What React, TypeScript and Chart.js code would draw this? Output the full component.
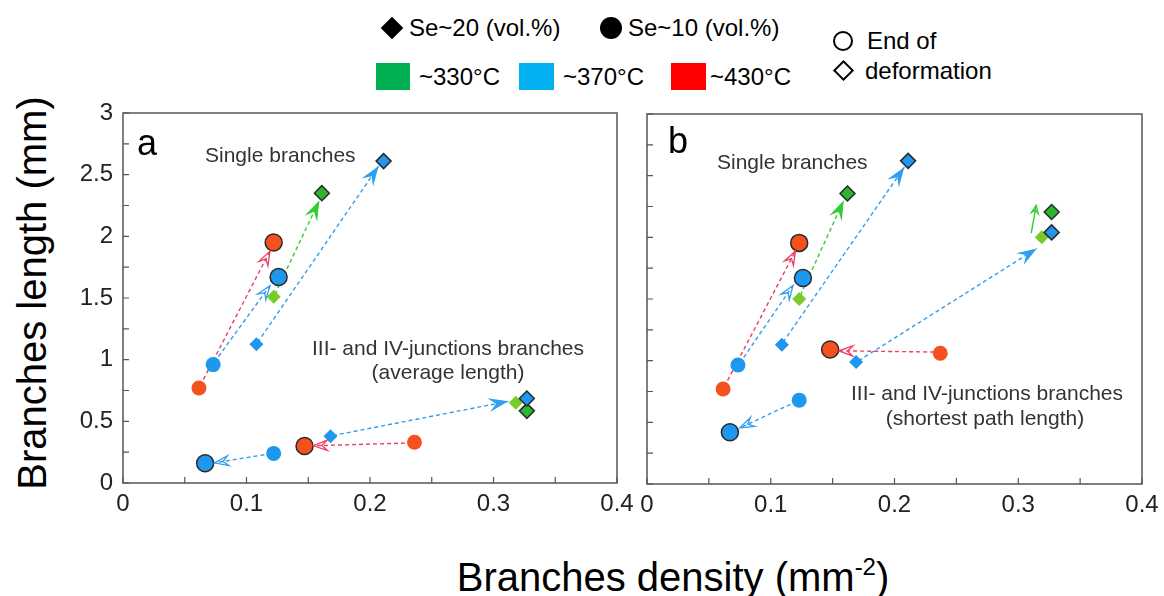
import React, { useEffect, useRef } from 'react';
import { Chart, registerables } from 'chart.js';

Chart.register(...registerables);

type P = { x: number; y: number };
type Seg = [number, number, number, number];

// ---------------- Panel a : single branches + III/IV junctions (average length) ----------------
const aRedCircleEnd: P[] = [{ x: 0.122, y: 1.95 }, { x: 0.147, y: 0.30 }];
const aRedCircleStart: P[] = [{ x: 0.0615, y: 0.77 }, { x: 0.236, y: 0.33 }];
const aBlueCircleEnd: P[] = [{ x: 0.126, y: 1.67 }, { x: 0.0665, y: 0.16 }];
const aBlueCircleStart: P[] = [{ x: 0.073, y: 0.96 }, { x: 0.122, y: 0.24 }];
const aBlueDiamondEnd: P[] = [{ x: 0.211, y: 2.61 }, { x: 0.327, y: 0.685 }];
const aBlueDiamondStart: P[] = [{ x: 0.108, y: 1.125 }, { x: 0.168, y: 0.38 }];
const aGreenDiamondEnd: P[] = [{ x: 0.161, y: 2.35 }, { x: 0.327, y: 0.585 }];
const aLightGreenDiamondStart: P[] = [{ x: 0.122, y: 1.51 }, { x: 0.318, y: 0.65 }];

const aRedArrows: Seg[] = [[0.0625, 0.79, 0.119, 1.88], [0.234, 0.325, 0.154, 0.302]];
const aBlueOpenArrows: Seg[] = [[0.074, 0.98, 0.119, 1.60], [0.12, 0.238, 0.074, 0.163]];
const aBlueFilledArrows: Seg[] = [[0.109, 1.14, 0.207, 2.57], [0.17, 0.385, 0.312, 0.662]];
const aGreenArrows: Seg[] = [[0.123, 1.53, 0.159, 2.29]];
const aGreenSolidArrows: Seg[] = [];

// ---------------- Panel b : single branches + III/IV junctions (shortest path length) ----------------
const bRedCircleEnd: P[] = [{ x: 0.123, y: 1.955 }, { x: 0.148, y: 1.09 }];
const bRedCircleStart: P[] = [{ x: 0.0615, y: 0.77 }, { x: 0.237, y: 1.06 }];
const bBlueCircleEnd: P[] = [{ x: 0.126, y: 1.67 }, { x: 0.067, y: 0.42 }];
const bBlueCircleStart: P[] = [{ x: 0.0735, y: 0.965 }, { x: 0.123, y: 0.68 }];
const bBlueDiamondEnd: P[] = [{ x: 0.211, y: 2.62 }, { x: 0.327, y: 2.04 }];
const bBlueDiamondStart: P[] = [{ x: 0.109, y: 1.13 }, { x: 0.169, y: 0.99 }];
const bGreenDiamondEnd: P[] = [{ x: 0.162, y: 2.355 }, { x: 0.327, y: 2.205 }];
const bLightGreenDiamondStart: P[] = [{ x: 0.123, y: 1.50 }, { x: 0.319, y: 2.0 }];

const bRedArrows: Seg[] = [[0.0625, 0.79, 0.12, 1.89], [0.232, 1.07, 0.155, 1.08]];
const bBlueOpenArrows: Seg[] = [[0.075, 0.98, 0.118, 1.61], [0.121, 0.67, 0.075, 0.455]];
const bBlueFilledArrows: Seg[] = [[0.110, 1.15, 0.208, 2.57], [0.171, 1.0, 0.315, 1.91]];
const bGreenArrows: Seg[] = [[0.124, 1.53, 0.159, 2.30]];
const bGreenSolidArrows: Seg[] = [[0.3105, 2.035, 0.3145, 2.26]];

// ---------------- axes ----------------
const X_MIN = 0, X_MAX = 0.4, X_STEP = 0.05, X_LABEL_EVERY = 0.1;
const Y_MIN = 0, Y_MAX = 3, Y_STEP = 0.25, Y_LABEL_EVERY = 0.5;

const FONT = "'Liberation Sans', Arial, Helvetica, sans-serif";
const RED = '#F4511E';
const BLUE = '#1E98EE';
const GREEN = '#2DB52D';
const LGREEN = '#78CC2A';
const RED_ARROW = '#F03C64';
const BLUE_ARROW = '#2E9EF0';
const GREEN_ARROW = '#33CC33';
const OUTLINE = '#2a2a2a';

type Panel = {
  redEnd: P[]; redStart: P[]; blueCEnd: P[]; blueCStart: P[];
  blueDEnd: P[]; blueDStart: P[]; greenDEnd: P[]; lgreenDStart: P[];
  redArrows: Seg[]; blueOpen: Seg[]; blueFilled: Seg[]; green: Seg[]; greenSolid: Seg[];
};

const panelA: Panel = {
  redEnd: aRedCircleEnd, redStart: aRedCircleStart, blueCEnd: aBlueCircleEnd, blueCStart: aBlueCircleStart,
  blueDEnd: aBlueDiamondEnd, blueDStart: aBlueDiamondStart, greenDEnd: aGreenDiamondEnd, lgreenDStart: aLightGreenDiamondStart,
  redArrows: aRedArrows, blueOpen: aBlueOpenArrows, blueFilled: aBlueFilledArrows, green: aGreenArrows, greenSolid: aGreenSolidArrows,
};
const panelB: Panel = {
  redEnd: bRedCircleEnd, redStart: bRedCircleStart, blueCEnd: bBlueCircleEnd, blueCStart: bBlueCircleStart,
  blueDEnd: bBlueDiamondEnd, blueDStart: bBlueDiamondStart, greenDEnd: bGreenDiamondEnd, lgreenDStart: bLightGreenDiamondStart,
  redArrows: bRedArrows, blueOpen: bBlueOpenArrows, blueFilled: bBlueFilledArrows, green: bGreenArrows, greenSolid: bGreenSolidArrows,
};

const pts = (data: P[], style: string, r: number, color: string, outlined: boolean) => ({
  data,
  showLine: false,
  pointStyle: style,
  pointRadius: r,
  pointHoverRadius: r,
  pointBackgroundColor: color,
  backgroundColor: color,
  pointBorderColor: outlined ? OUTLINE : color,
  borderColor: outlined ? OUTLINE : color,
  pointBorderWidth: outlined ? 1.5 : 0,
  borderWidth: outlined ? 1.5 : 0,
  order: outlined ? 0 : 1,
});

const shaft = (s: Seg, color: string, dashed: boolean) => ({
  data: [{ x: s[0], y: s[1] }, { x: s[2], y: s[3] }],
  showLine: true,
  borderColor: color,
  borderWidth: 1.4,
  borderDash: dashed ? [4, 3] : [],
  pointRadius: 0,
  pointHoverRadius: 0,
  fill: false,
  order: 2,
});

function fmt(v: number) {
  return String(Math.round(v * 100) / 100);
}
function isMultiple(v: number, step: number) {
  const q = v / step;
  return Math.abs(q - Math.round(q)) < 1e-6;
}

function makeChart(
  canvas: HTMLCanvasElement,
  p: Panel,
  geom: { yWidth: number; xHeight: number; pad: { left: number; top: number; right: number; bottom: number }; showY: boolean }
) {
  const heads: { segs: Seg[]; color: string; filled: boolean; L: number; W: number }[] = [
    { segs: p.redArrows, color: RED_ARROW, filled: false, L: 14, W: 5 },
    { segs: p.blueOpen, color: BLUE_ARROW, filled: false, L: 14, W: 5 },
    { segs: p.blueFilled, color: BLUE_ARROW, filled: true, L: 20, W: 7 },
    { segs: p.green, color: GREEN_ARROW, filled: true, L: 20, W: 7 },
    { segs: p.greenSolid, color: GREEN_ARROW, filled: false, L: 8, W: 3.5 },
  ];

  const framePlugin = {
    id: 'frameTicks',
    afterDatasetsDraw(chart: any) {
      const { ctx, chartArea, scales } = chart;
      ctx.save();
      ctx.strokeStyle = '#555';
      ctx.lineWidth = 1.5;
      ctx.strokeRect(chartArea.left, chartArea.top, chartArea.right - chartArea.left, chartArea.bottom - chartArea.top);
      ctx.lineWidth = 1.2;
      ctx.beginPath();
      for (const t of scales.x.ticks) {
        const px = scales.x.getPixelForValue(t.value);
        ctx.moveTo(px, chartArea.bottom);
        ctx.lineTo(px, chartArea.bottom - 6);
      }
      for (const t of scales.y.ticks) {
        const py = scales.y.getPixelForValue(t.value);
        ctx.moveTo(chartArea.left, py);
        ctx.lineTo(chartArea.left + 6, py);
      }
      ctx.stroke();
      ctx.restore();
    },
  };

  const arrowPlugin = {
    id: 'arrowHeads',
    afterDatasetsDraw(chart: any) {
      const { ctx, scales } = chart;
      for (const h of heads) {
        for (const s of h.segs) {
          const x1 = scales.x.getPixelForValue(s[0]);
          const y1 = scales.y.getPixelForValue(s[1]);
          const x2 = scales.x.getPixelForValue(s[2]);
          const y2 = scales.y.getPixelForValue(s[3]);
          const ang = Math.atan2(y2 - y1, x2 - x1);
          ctx.save();
          ctx.translate(x2, y2);
          ctx.rotate(ang);
          ctx.beginPath();
          ctx.moveTo(0, 0);
          ctx.lineTo(-h.L, -h.W);
          ctx.lineTo(-h.L * 0.62, 0);
          ctx.lineTo(-h.L, h.W);
          ctx.closePath();
          if (h.filled) {
            ctx.fillStyle = h.color;
            ctx.fill();
          } else {
            ctx.strokeStyle = h.color;
            ctx.lineWidth = 1.3;
            ctx.lineJoin = 'miter';
            ctx.stroke();
          }
          ctx.restore();
        }
      }
    },
  };

  const datasets: any[] = [
    ...p.redArrows.map((s) => shaft(s, RED_ARROW, true)),
    ...p.blueOpen.map((s) => shaft(s, BLUE_ARROW, true)),
    ...p.blueFilled.map((s) => shaft(s, BLUE_ARROW, true)),
    ...p.green.map((s) => shaft(s, GREEN_ARROW, true)),
    ...p.greenSolid.map((s) => shaft(s, GREEN_ARROW, false)),
    pts(p.redStart, 'circle', 7.5, RED, false),
    pts(p.blueCStart, 'circle', 7.5, BLUE, false),
    pts(p.blueDStart, 'rectRot', 7, BLUE, false),
    pts(p.lgreenDStart, 'rectRot', 7, LGREEN, false),
    pts(p.redEnd, 'circle', 8.5, RED, true),
    pts(p.blueCEnd, 'circle', 8.5, BLUE, true),
    pts(p.blueDEnd, 'rectRot', 7.5, BLUE, true),
    pts(p.greenDEnd, 'rectRot', 7.5, GREEN, true),
  ];

  return new Chart(canvas, {
    type: 'scatter',
    data: { datasets },
    options: {
      animation: false,
      responsive: false,
      events: [],
      layout: { padding: geom.pad },
      plugins: { legend: { display: false }, tooltip: { enabled: false } },
      scales: {
        x: {
          type: 'linear',
          min: X_MIN,
          max: X_MAX,
          grid: { display: false, drawTicks: false },
          border: { display: false },
          afterFit: (sc: any) => {
            sc.height = geom.xHeight;
            sc.paddingLeft = 0;
            sc.paddingRight = 0;
            sc.paddingTop = 0;
            sc.paddingBottom = 0;
          },
          ticks: {
            stepSize: X_STEP,
            autoSkip: false,
            maxRotation: 0,
            minRotation: 0,
            padding: 7,
            color: '#222',
            font: { family: FONT, size: 24 },
            callback: (v: any) => (isMultiple(Number(v), X_LABEL_EVERY) ? fmt(Number(v)) : ''),
          },
        },
        y: {
          type: 'linear',
          min: Y_MIN,
          max: Y_MAX,
          grid: { display: false, drawTicks: false },
          border: { display: false },
          afterFit: (sc: any) => {
            sc.width = geom.yWidth;
            sc.paddingTop = 0;
            sc.paddingBottom = 0;
            sc.paddingLeft = 0;
            sc.paddingRight = 0;
          },
          ticks: {
            display: geom.showY,
            stepSize: Y_STEP,
            autoSkip: false,
            padding: 10,
            color: '#222',
            font: { family: FONT, size: 24 },
            callback: (v: any) => (isMultiple(Number(v), Y_LABEL_EVERY) ? fmt(Number(v)) : ''),
          },
        },
      },
    } as any,
    plugins: [framePlugin, arrowPlugin],
  });
}

const T = ({ x, y, size, children, color = '#000', align = 'left', w = 400 }: any) => {
  const style: React.CSSProperties = {
    position: 'absolute',
    top: y,
    fontFamily: FONT,
    fontSize: size,
    lineHeight: 1,
    color,
    whiteSpace: 'nowrap',
    transform: 'translateY(-50%)',
  };
  if (align === 'center') {
    style.left = x - w / 2;
    style.width = w;
    style.textAlign = 'center';
  } else {
    style.left = x;
  }
  return <div style={style}>{children}</div>;
};

export default function App() {
  const refA = useRef<HTMLCanvasElement>(null);
  const refB = useRef<HTMLCanvasElement>(null);

  useEffect(() => {
    const ca = makeChart(refA.current!, panelA, {
      yWidth: 63, xHeight: 37, pad: { left: 0, top: 13, right: 23, bottom: 0 }, showY: true,
    });
    const cb = makeChart(refB.current!, panelB, {
      yWidth: 12, xHeight: 36, pad: { left: 0, top: 14, right: 20, bottom: 0 }, showY: false,
    });
    return () => {
      ca.destroy();
      cb.destroy();
    };
  }, []);

  return (
    <div style={{ position: 'absolute', left: 0, top: 0, width: 1164, height: 596, background: '#fff', overflow: 'hidden' }}>
      <canvas ref={refA} width={580} height={420} style={{ position: 'absolute', left: 60, top: 100, width: 580, height: 420 }} />
      <canvas ref={refB} width={527} height={420} style={{ position: 'absolute', left: 635, top: 100, width: 527, height: 420 }} />

      {/* legend row 1 */}
      <div style={{ position: 'absolute', left: 392 - 8, top: 28 - 8, width: 16, height: 16, background: '#000', transform: 'rotate(45deg)' }} />
      <T x={409} y={28} size={24}>Se~20 (vol.%)</T>
      <div style={{ position: 'absolute', left: 611 - 11, top: 28 - 11, width: 22, height: 22, borderRadius: '50%', background: '#000' }} />
      <T x={628} y={28} size={24}>Se~10 (vol.%)</T>

      {/* legend row 2 */}
      <div style={{ position: 'absolute', left: 376, top: 63, width: 34, height: 27, background: '#00B050' }} />
      <T x={419} y={77} size={24}>~330°C</T>
      <div style={{ position: 'absolute', left: 519, top: 63, width: 35, height: 27, background: '#00B0F0' }} />
      <T x={563} y={77} size={24}>~370°C</T>
      <div style={{ position: 'absolute', left: 671, top: 63, width: 35, height: 27, background: '#FF0000' }} />
      <T x={710} y={77} size={24}>~430°C</T>

      {/* end of deformation */}
      <div style={{ position: 'absolute', left: 843 - 10, top: 41 - 10, width: 16, height: 16, border: '2px solid #000', borderRadius: '50%' }} />
      <T x={867} y={41} size={24}>End of</T>
      <div style={{ position: 'absolute', left: 843 - 7, top: 70 - 7, width: 11, height: 11, border: '2px solid #000', transform: 'rotate(45deg)' }} />
      <T x={865} y={71} size={24}>deformation</T>

      {/* panel letters */}
      <T x={137} y={143} size={36}>a</T>
      <T x={668} y={141} size={36}>b</T>

      {/* annotations */}
      <T x={205} y={154} size={21} color="#333">Single branches</T>
      <T x={448} y={347} size={21} color="#333" align="center">III- and IV-junctions branches</T>
      <T x={448} y={371} size={21} color="#333" align="center">(average length)</T>
      <T x={717} y={161} size={21} color="#333">Single branches</T>
      <T x={987} y={392} size={21} color="#333" align="center">III- and IV-junctions branches</T>
      <T x={985} y={417} size={21} color="#333" align="center">(shortest path length)</T>

      {/* axis titles */}
      <div
        style={{
          position: 'absolute', left: 32 - 250, top: 293 - 22, width: 500, height: 44, lineHeight: '44px',
          textAlign: 'center', fontFamily: FONT, fontSize: 40, color: '#000', transform: 'rotate(-90deg)', whiteSpace: 'nowrap',
        }}
      >
        Branches length (mm)
      </div>
      <div
        style={{
          position: 'absolute', left: 673 - 300, top: 577 - 22, width: 600, height: 44, lineHeight: '44px',
          textAlign: 'center', fontFamily: FONT, fontSize: 40, color: '#000', whiteSpace: 'nowrap',
        }}
      >
        Branches density (mm<sup style={{ fontSize: 24, verticalAlign: 'top', lineHeight: '24px' }}>-2</sup>)
      </div>
    </div>
  );
}
